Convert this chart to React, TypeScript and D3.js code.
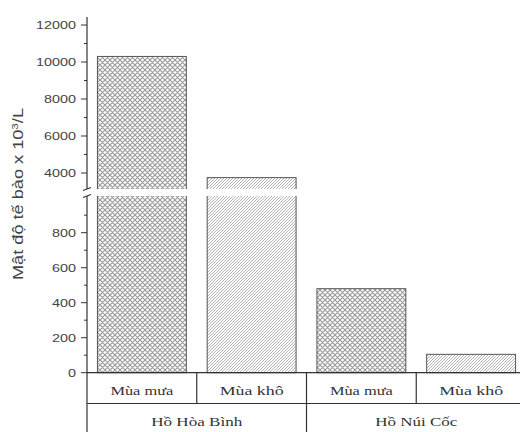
import React from "react";
import * as d3 from "d3";

const categories = ["Mùa mưa", "Mùa khô", "Mùa mưa", "Mùa khô"];
const groups = ["Hồ Hòa Bình", "Hồ Núi Cốc"];
const values = [10300, 3750, 480, 105];
const patterns = ["cross", "diag", "cross", "diag"];
const upperTicks = [4000, 6000, 8000, 10000, 12000];
const upperMinor = [5000, 7000, 9000, 11000];
const lowerTicks = [0, 200, 400, 600, 800];
const lowerMinor = [100, 300, 500, 700, 900];

const W = 520, H = 432;
const axisX = 87;
const yBreakTop = 189;
const yBreakBot = 196;
const yTop = 17;
const yBase = 372.7;
const row1 = 403.5;

const yUpper = d3.scaleLinear().domain([4000, 12000]).range([173, 25]);
const yLower = d3.scaleLinear().domain([0, 800]).range([yBase, 232.7]);
const x = d3.scaleBand<number>().domain([0, 1, 2, 3]).range([axisX, 526]).paddingInner(0.19).paddingOuter(0.095);

const sans = "Liberation Sans, Arial, sans-serif";
const serif = "Liberation Serif, Times New Roman, serif";

function TickLabel({ y, t }: { y: number; t: number }) {
  const s = String(t);
  return (
    <text x={axisX - 11} y={y} dy="0.36em" textAnchor="end" fontFamily={sans} fontSize={11.5} fill="#444"
      textLength={s.length * 8} lengthAdjust="spacingAndGlyphs">{s}</text>
  );
}

export default function App() {
  const step = x.step();
  const barTop = (v: number) => (v > 1000 ? yUpper(v) : yLower(v));
  const catLen = [63, 64, 63, 64];
  const grpLen = [91, 82];
  return (
    <svg width={W} height={H} style={{ position: "absolute", left: 0, top: 0, background: "#fff" }}>
      <defs>
        <pattern id="cross" width="5" height="5" patternUnits="userSpaceOnUse">
          <rect width="5" height="5" fill="#fff" />
          <path d="M0,0 L5,5 M5,0 L0,5 M-1,4 L1,6 M4,-1 L6,1" stroke="#999" strokeWidth="1.1" />
        </pattern>
        <pattern id="diag" width="3" height="3" patternUnits="userSpaceOnUse">
          <rect width="3" height="3" fill="#fff" />
          <path d="M0,3 L3,0 M-1,1 L1,-1 M2,4 L4,2" stroke="#aaa" strokeWidth="0.9" />
        </pattern>
      </defs>
      {values.map((v, i) => (
        <rect key={i} x={x(i)} y={barTop(v)} width={x.bandwidth()} height={yBase - barTop(v)}
          fill={`url(#${patterns[i]})`} stroke="#555" strokeWidth={1} />
      ))}
      <rect x={axisX + 1} y={yBreakTop} width={W} height={yBreakBot - yBreakTop} fill="#fff" />
      <line x1={axisX} x2={axisX} y1={yTop} y2={yBreakTop} stroke="#333" strokeWidth={1.2} />
      <line x1={axisX} x2={axisX} y1={yBreakBot} y2={H} stroke="#333" strokeWidth={1.2} />
      <line x1={axisX - 4} x2={axisX + 4} y1={yBreakTop + 1.5} y2={yBreakTop - 1.5} stroke="#333" strokeWidth={1.2} />
      <line x1={axisX - 4} x2={axisX + 4} y1={yBreakBot + 1.5} y2={yBreakBot - 1.5} stroke="#333" strokeWidth={1.2} />
      {upperTicks.map((t) => (
        <g key={"u" + t}>
          <line x1={axisX - 6} x2={axisX} y1={yUpper(t)} y2={yUpper(t)} stroke="#333" />
          <TickLabel y={yUpper(t)} t={t} />
        </g>
      ))}
      {upperMinor.map((t) => (
        <line key={"um" + t} x1={axisX - 3} x2={axisX} y1={yUpper(t)} y2={yUpper(t)} stroke="#333" />
      ))}
      {lowerTicks.map((t) => (
        <g key={"l" + t}>
          <line x1={axisX - 6} x2={axisX} y1={yLower(t)} y2={yLower(t)} stroke="#333" />
          <TickLabel y={yLower(t)} t={t} />
        </g>
      ))}
      {lowerMinor.map((t) => (
        <line key={"lm" + t} x1={axisX - 3} x2={axisX} y1={yLower(t)} y2={yLower(t)} stroke="#333" />
      ))}
      <line x1={axisX} x2={W} y1={yBase} y2={yBase} stroke="#333" strokeWidth={1.2} />
      <line x1={axisX} x2={W} y1={row1} y2={row1} stroke="#333" strokeWidth={1.2} />
      {[1, 2, 3].map((i) => (
        <line key={"v" + i} x1={axisX + i * step} x2={axisX + i * step} y1={yBase} y2={i === 2 ? H : row1} stroke="#333" strokeWidth={1.2} />
      ))}
      {categories.map((c, i) => (
        <text key={"c" + i} x={(x(i) as number) + x.bandwidth() / 2} y={390.5} dy="0.35em" textAnchor="middle"
          fontFamily={serif} fontSize={13} fill="#333" textLength={catLen[i]} lengthAdjust="spacingAndGlyphs">{c}</text>
      ))}
      {groups.map((g, i) => (
        <text key={"g" + i} x={axisX + step * (2 * i + 1)} y={421} dy="0.35em" textAnchor="middle"
          fontFamily={serif} fontSize={13} fill="#333" textLength={grpLen[i]} lengthAdjust="spacingAndGlyphs">{g}</text>
      ))}
      <text transform={`translate(23,194) rotate(-90)`} textAnchor="middle" fontFamily={sans} fontSize={14} fill="#444"
        textLength={172} lengthAdjust="spacingAndGlyphs">
        Mật độ tế bào x 10<tspan dy="-5" fontSize={9}>3</tspan><tspan dy="5">/L</tspan>
      </text>
    </svg>
  );
}
